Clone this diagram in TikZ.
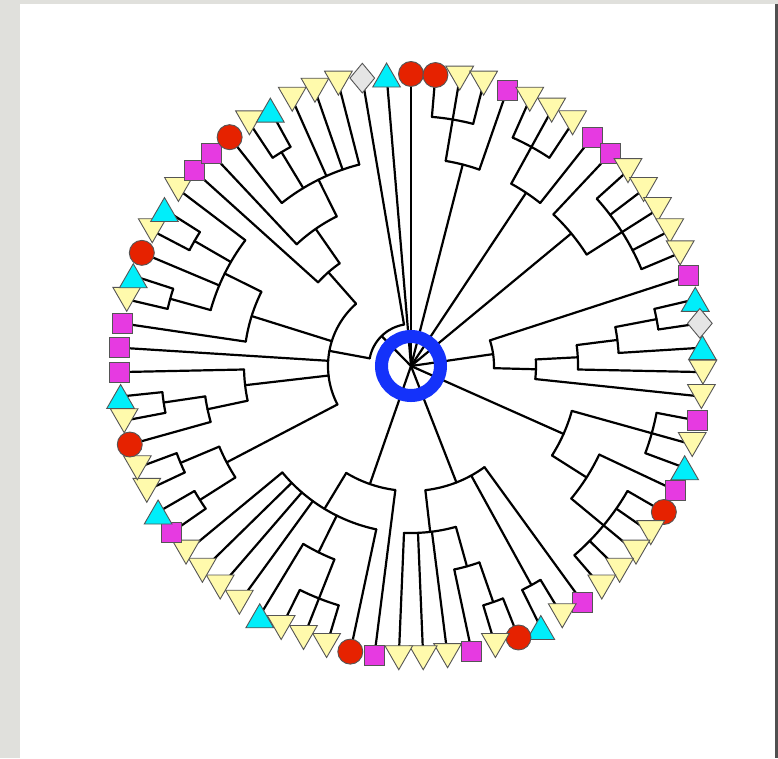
\documentclass[tikz,border=0pt]{standalone}
\usetikzlibrary{shapes.geometric}
\definecolor{yfill}{RGB}{255,250,172}
\definecolor{cfill}{RGB}{0,238,250}
\definecolor{mfill}{RGB}{230,58,225}
\definecolor{rfill}{RGB}{230,34,0}
\definecolor{dfill}{RGB}{229,229,229}
\definecolor{ringblue}{RGB}{20,50,250}
\definecolor{pagegray}{RGB}{224,224,220}
\definecolor{edgegray}{RGB}{80,80,80}
\definecolor{outl}{RGB}{85,85,85}
\newcommand\Ar[3]{\draw[br] (#2:#1) arc[start angle=#2, end angle=#3, radius=#1];}
\newcommand\Rd[3]{\draw[br] (#1:#2) -- (#1:#3);}
\begin{document}
\begin{tikzpicture}[x=1pt,y=1pt,
  br/.style={line width=2.2pt, line cap=round, line join=round, black},
  leafbase/.style={draw=outl, line width=0.9pt, inner sep=0pt},
  leafY/.style={leafbase, regular polygon, regular polygon sides=3, shape border rotate=180, minimum size=32pt, fill=yfill, yshift=4pt},
  leafC/.style={leafbase, regular polygon, regular polygon sides=3, minimum size=32pt, fill=cfill, yshift=-4pt},
  leafM/.style={leafbase, rectangle, minimum size=20pt, fill=mfill},
  leafR/.style={leafbase, circle, minimum size=25pt, fill=rfill},
  leafD/.style={leafbase, diamond, minimum width=25pt, minimum height=30pt, fill=dfill}]
\useasboundingbox (-411,-392) rectangle (367,366);
\fill[pagegray] (-411,-392) rectangle (367,366);
\fill[white] (-391,-392) rectangle (364,362);
\fill[edgegray] (364,-392) rectangle (367,362);
% root
\Rd{90}{0}{292}
\Rd{94.8}{0}{292}
\Rd{75.6}{0}{208}
\Rd{56.4}{0}{208}
\Rd{39.6}{0}{208}
\Rd{8.25}{0}{83}
\Rd{-24}{0}{167}
\Rd{-68.7}{0}{125}
\Rd{-109.2}{0}{125}
\Rd{134.5}{0}{42}
% A and D
\Ar{42}{99.6}{169.5}
\Rd{99.6}{42}{292}
\Rd{169.5}{42}{83}
\Ar{83}{131.4}{207.6}
% T4..T1
\Rd{131.4}{83}{125}
\Ar{125}{124.8}{138}
\Rd{138}{125}{292}
\Rd{124.8}{125}{167}
\Ar{167}{116.4}{133.2}
\Rd{133.2}{167}{292}
\Rd{116.4}{167}{208}
\Ar{208}{104.4}{128.4}
\foreach \a in {128.4,114,109.2,104.4} {\Rd{\a}{208}{292}}
\Rd{121.2}{208}{250}
\Ar{250}{118.8}{123.6}
\foreach \a in {118.8,123.6} {\Rd{\a}{250}{292}}
% V
\Rd{162.6}{83}{167}
\Ar{167}{153.6}{171.6}
\Rd{171.6}{167}{292}
\Rd{153.6}{167}{208}
\Ar{208}{142.8}{164.4}
\foreach \a in {142.8,157.2} {\Rd{\a}{208}{292}}
\Rd{150}{208}{250}
\Rd{164.4}{208}{250}
\Ar{250}{147.6}{152.4}
\Ar{250}{162}{166.8}
\foreach \a in {147.6,152.4,162,166.8} {\Rd{\a}{250}{292}}
% 59
\Rd{176.4}{83}{292}
% W
\Rd{186.6}{83}{167}
\Ar{167}{181.2}{192}
\Rd{181.2}{167}{292}
\Rd{192}{167}{208}
\Ar{208}{188.4}{195.6}
\Rd{195.6}{208}{292}
\Rd{188.4}{208}{250}
\Ar{250}{186}{190.8}
\foreach \a in {186,190.8} {\Rd{\a}{250}{292}}
% X3
\Rd{207.6}{83}{208}
\Ar{208}{202.8}{212.4}
\Rd{202.8}{208}{250}
\Rd{212.4}{208}{250}
\Ar{250}{200.4}{205.2}
\Ar{250}{210}{214.8}
\foreach \a in {200.4,205.2,210,214.8} {\Rd{\a}{250}{292}}
% N2
\Ar{208}{70.8}{80.4}
\Rd{70.8}{208}{292}
\Rd{80.4}{208}{250}
\Ar{250}{75.6}{85.2}
\foreach \a in {75.6,80.4,85.2} {\Rd{\a}{250}{292}}
% N4
\Ar{208}{51.6}{61.2}
\Rd{51.6}{208}{292}
\Rd{61.2}{208}{250}
\Ar{250}{56.4}{66}
\foreach \a in {56.4,61.2,66} {\Rd{\a}{250}{292}}
% N7
\Ar{208}{32.4}{46.8}
\Rd{46.8}{208}{292}
\Rd{32.4}{208}{250}
\Ar{250}{22.8}{42}
\foreach \a in {22.8,27.6,32.4,37.2,42} {\Rd{\a}{250}{292}}
% N8..N12
\Ar{83}{-1.5}{18}
\Rd{18}{83}{292}
\Rd{-1.5}{83}{125}
\Ar{125}{-6}{3}
\Rd{-6}{125}{292}
\Rd{3}{125}{167}
\Ar{167}{-1.2}{7.2}
\Rd{-1.2}{167}{292}
\Rd{7.2}{167}{208}
\Ar{208}{3.6}{10.8}
\Rd{3.6}{208}{292}
\Rd{10.8}{208}{250}
\Ar{250}{8.4}{13.2}
\foreach \a in {8.4,13.2} {\Rd{\a}{250}{292}}
% N15
\Ar{167}{-32.4}{-15.6}
\Rd{-15.6}{167}{292}
\Ar{250}{-20.4}{-10.8}
\foreach \a in {-20.4,-10.8} {\Rd{\a}{250}{292}}
\Rd{-32.4}{167}{208}
\Ar{208}{-39.6}{-25.2}
\Rd{-25.2}{208}{292}
\Rd{-39.6}{208}{250}
\Ar{250}{-49.2}{-30}
\foreach \a in {-30,-34.8,-39.6,-44.4,-49.2} {\Rd{\a}{250}{292}}
% Y2
\Ar{125}{-83.4}{-54}
\Rd{-54}{125}{292}
\Rd{-61.2}{125}{250}
\Ar{250}{-63.6}{-58.8}
\foreach \a in {-63.6,-58.8} {\Rd{\a}{250}{292}}
\Rd{-83.4}{125}{167}
\Ar{167}{-92.4}{-74.4}
\foreach \a in {-92.4,-87.6,-82.8} {\Rd{\a}{167}{292}}
\Rd{-74.4}{167}{208}
\Ar{208}{-78}{-70.8}
\Rd{-78}{208}{292}
\Rd{-70.8}{208}{250}
\Ar{250}{-73.2}{-68.4}
\foreach \a in {-73.2,-68.4} {\Rd{\a}{250}{292}}
% R3
\Ar{125}{-121.2}{-97.2}
\Rd{-97.2}{125}{292}
\Rd{-121.2}{125}{167}
\Ar{167}{-140.4}{-102}
\foreach \a in {-140.4,-135.6,-130.8,-126,-102} {\Rd{\a}{167}{292}}
\Rd{-116.4}{167}{208}
\Ar{208}{-121.2}{-111.6}
\Rd{-121.2}{208}{292}
\Rd{-111.6}{208}{250}
\Ar{250}{-116.4}{-106.8}
\foreach \a in {-116.4,-111.6,-106.8} {\Rd{\a}{250}{292}}
% ring
\draw[ringblue, line width=13pt] (0,0) circle[radius=29.5];
% leaves
\foreach \i/\t in {0/D,1/C,2/R,3/R,4/Y,5/Y,6/M,7/Y,8/Y,9/Y,10/M,11/M,12/Y,13/Y,14/Y,15/Y,16/Y,17/M,18/C,19/D,20/C,21/Y,22/Y,23/M,24/Y,25/C,26/M,27/R,28/Y,29/Y,30/Y,31/Y,32/M,33/Y,34/C,35/R,36/Y,37/M,38/Y,39/Y,40/Y,41/M,42/R,43/Y,44/Y,45/Y,46/C,47/Y,48/Y,49/Y,50/Y,51/M,52/C,53/Y,54/Y,55/R,56/Y,57/C,58/M,59/M,60/M,61/Y,62/C,63/R,64/Y,65/C,66/Y,67/M,68/M,69/R,70/Y,71/C,72/Y,73/Y,74/Y}
  {\node[leaf\t] (l\i) at ({99.6-4.8*\i}:292) {};}
\end{tikzpicture}
\end{document}
